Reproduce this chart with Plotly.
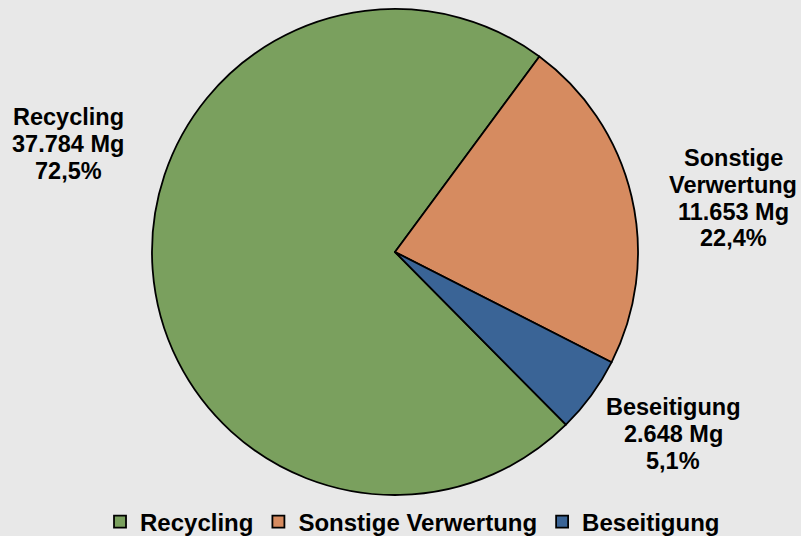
import plotly.graph_objects as go

categories = ["Recycling", "Sonstige Verwertung", "Beseitigung"]
label_lines = [["Recycling"], ["Sonstige", "Verwertung"], ["Beseitigung"]]
values_mg = [37784, 11653, 2648]
values_mg_text = ["37.784 Mg", "11.653 Mg", "2.648 Mg"]
percent_text = ["72,5%", "22,4%", "5,1%"]
colors = ["#7aa05e", "#d68b60", "#3a6496"]

W, H = 801, 536
cx, cy, r = 395, 252, 243

fig = go.Figure(go.Pie(
    labels=categories,
    values=values_mg,
    sort=False,
    direction="clockwise",
    rotation=135.3,
    marker=dict(colors=colors, line=dict(color="black", width=1.8)),
    textinfo="none",
    hoverinfo="label+value+percent",
    domain=dict(x=[(cx - r) / W, (cx + r) / W], y=[1 - (cy + r) / H, 1 - (cy - r) / H]),
))

FONT = "Liberation Sans, Arial, sans-serif"
# label block: centre x and y of first line, line spacing (px)
label_pos = [(68, 117), (733, 158), (673, 407)]
spacing = 26.8
for i, (x, y0) in enumerate(label_pos):
    lines = label_lines[i] + [values_mg_text[i], percent_text[i]]
    for k, line in enumerate(lines):
        fig.add_annotation(
            x=x / W, y=1 - (y0 + k * spacing) / H, xref="paper", yref="paper",
            text=f"<b>{line}</b>",
            showarrow=False, align="center", xanchor="center", yanchor="middle",
            font=dict(family=FONT, size=23.5, color="black"),
        )

fig.update_layout(
    width=W, height=H,
    margin=dict(l=0, r=0, t=0, b=0, autoexpand=False),
    paper_bgcolor="#e8e8e8",
    plot_bgcolor="#e8e8e8",
    showlegend=True,
    legend=dict(
        orientation="h", x=0.515, xanchor="center", y=1 - 522 / H, yanchor="middle",
        font=dict(family=FONT, size=24, color="black", weight="bold"),
        bgcolor="rgba(0,0,0,0)", traceorder="normal", itemwidth=30,
    ),
)

fig.write_html("out.html", config={"displayModeBar": False},
               post_script="document.body.style.margin='0px';")
